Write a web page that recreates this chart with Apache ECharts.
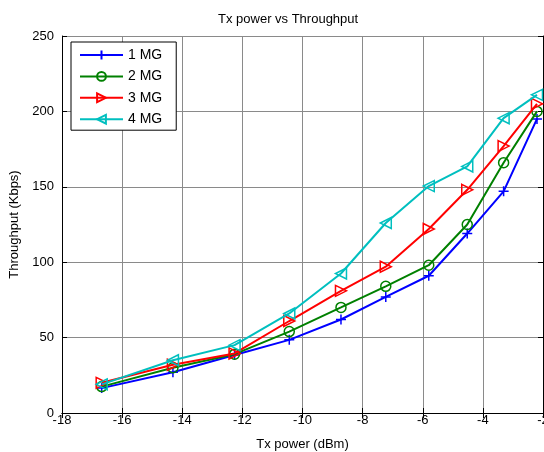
<!DOCTYPE html>
<html>
<head>
<meta charset="utf-8">
<script src="https://cdn.jsdelivr.net/npm/echarts@6/dist/echarts.min.js"></script>
<style>
html,body{margin:0;padding:0;background:#fff;}
#chart{width:544px;height:452px;}
</style>
</head>
<body>
<div id="chart"></div>
<script>
// Data
var txPower = [-16.68, -14.31, -12.26, -10.44, -8.72, -7.23, -5.80, -4.52, -3.31, -2.2];
var seriesNames = ['1 MG', '2 MG', '3 MG', '4 MG'];
var mg1 = [16.5, 27, 38.5, 48.5, 62, 77, 91, 119, 147, 195];
var mg2 = [17.5, 30, 39, 54, 70, 84, 98, 125, 166, 200];
var mg3 = [20, 32, 39.5, 61, 81, 97, 122, 148, 177, 205];
var mg4 = [19, 35, 45, 66, 92.5, 126, 150.5, 163.5, 195.5, 211];
var xTicks = { min: -18, max: -2, interval: 2 };
var yTicks = { min: 0, max: 250, interval: 50 };

var FONT = 'Liberation Sans, Arial, sans-serif';
var colors = ['#0000ff', '#008000', '#ff0000', '#00bfbf'];
var symbols = [
  'path://M5,0 L5,10 M0,5 L10,5',
  'circle',
  'path://M0,0 L10,5 L0,10 Z',
  'path://M10,0 L0,5 L10,10 Z'
];
var sizes = [10, 10, 11, 11];
var values = [mg1, mg2, mg3, mg4];

function pairs(xs, ys) {
  return xs.map(function (x, i) { return [x, ys[i]]; });
}

var series = values.map(function (v, i) {
  return {
    name: seriesNames[i],
    type: 'line',
    data: pairs(txPower, v),
    symbol: symbols[i],
    symbolSize: sizes[i],
    showAllSymbol: true,
    lineStyle: { color: colors[i], width: 2 },
    itemStyle: { color: 'rgba(0,0,0,0)', borderColor: colors[i], borderWidth: 1.5 },
    emphasis: { disabled: true },
    animation: false,
    z: 2 + i
  };
});

var axisCommon = {
  axisLine: { show: true, lineStyle: { color: '#000', width: 1 } },
  axisTick: { show: true, inside: true, length: 5, lineStyle: { color: '#000' } }
};

var option = {
  animation: false,
  backgroundColor: '#ffffff',
  title: {
    text: 'Tx power vs Throughput',
    left: 218,
    top: 13,
    padding: 0,
    textStyle: { fontFamily: FONT, fontSize: 13, fontWeight: 'normal', color: '#000' }
  },
  legend: {
    orient: 'vertical',
    left: 71,
    top: 42,
    padding: [6, 14, 4, 8],
    itemWidth: 43,
    itemHeight: 11,
    itemGap: 7.4,
    borderColor: '#000',
    borderWidth: 1,
    backgroundColor: '#fff',
    textStyle: { fontFamily: FONT, fontSize: 14, lineHeight: 14, color: '#000' },
    data: seriesNames
  },
  grid: { left: 62, right: 1, top: 36, bottom: 39, containLabel: false, outerBoundsMode: 'none' },
  xAxis: [
    Object.assign({
      type: 'value',
      min: xTicks.min, max: xTicks.max, interval: xTicks.interval,
      position: 'bottom',
      name: 'Tx power (dBm)',
      nameLocation: 'middle',
      nameGap: 25,
      nameTextStyle: { fontFamily: FONT, fontSize: 13, color: '#000' },
      axisLabel: { fontFamily: FONT, fontSize: 13, color: '#000', margin: 1 },
      splitLine: { show: true, lineStyle: { color: '#8a8a8a', width: 1 } }
    }, axisCommon),
    Object.assign({
      type: 'value',
      min: xTicks.min, max: xTicks.max, interval: xTicks.interval,
      position: 'top',
      axisLabel: { show: false },
      splitLine: { show: false }
    }, axisCommon)
  ],
  yAxis: [
    Object.assign({
      type: 'value',
      min: yTicks.min, max: yTicks.max, interval: yTicks.interval,
      position: 'left',
      name: 'Throughput (Kbps)',
      nameLocation: 'middle',
      nameGap: 38,
      nameTextStyle: { fontFamily: FONT, fontSize: 13, color: '#000' },
      axisLabel: { fontFamily: FONT, fontSize: 13, color: '#000', margin: 8 },
      splitLine: { show: true, lineStyle: { color: '#8a8a8a', width: 1 } }
    }, axisCommon),
    Object.assign({
      type: 'value',
      min: yTicks.min, max: yTicks.max, interval: yTicks.interval,
      position: 'right',
      axisLabel: { show: false },
      splitLine: { show: false }
    }, axisCommon)
  ],
  series: series
};

var chart = echarts.init(document.getElementById('chart'), null, { renderer: 'canvas' });
chart.setOption(option);
</script>
</body>
</html>
